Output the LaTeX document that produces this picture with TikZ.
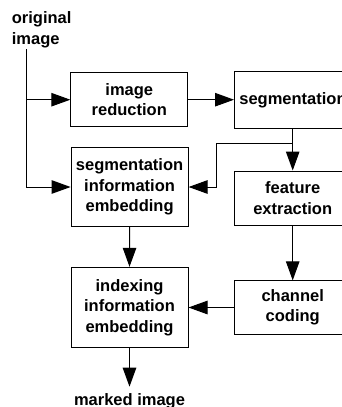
\documentclass[tikz,border=0pt]{standalone}
\usepackage{fontspec}
\setmainfont{Liberation Sans}
\usetikzlibrary{arrows.meta}
\begin{document}
\begin{tikzpicture}[x=1pt,y=-1pt,
  every node/.style={font=\fontsize{16.5}{20.5}\selectfont\bfseries},
  blk/.style={draw,line width=1pt,minimum width=117pt,align=center,inner sep=0pt},
  conn/.style={line width=1pt},
  arr/.style={conn,-{Triangle[length=19pt,width=13.5pt]}}]
\clip (0,0) rectangle (342,407);
\node[blk,minimum height=54pt] (IR) at (129.3,99.7) {image\\reduction};
\node[blk,minimum height=56.6pt] (SEG) at (293,100) {segmentation};
\node[blk,minimum height=79.4pt] (SII) at (129.6,187) {segmentation\\information\\embedding};
\node[blk,minimum height=54pt] (FE) at (292.7,198) {feature\\extraction};
\node[blk,minimum height=80pt] (III) at (129.5,307.3) {indexing\\information\\embedding};
\node[blk,minimum height=53.3pt] (CC) at (292.7,307.5) {channel\\coding};
\node[align=left,anchor=north west,inner sep=0pt] (orig) at (11.7,11.5) {original\\image};
\node[anchor=base,inner sep=0pt] (marked) at (129.5,405) {marked image};
\coordinate (o) at (26.7,49.3);
\coordinate (b) at (292.8,143.3);
\coordinate (c) at (216,143.3);
\coordinate (m) at (129.5,386.7);
\draw[arr] (o) |- (SII.west);
\draw[arr] (o |- IR.west) -- (IR.west);
\draw[arr] (IR.east) -- (IR.east -| SEG.west);
\draw[arr] (SEG.south -| FE.north) -- (FE.north);
\draw[arr] (b) -- (c) |- (SII.east);
\draw[arr] (SII.south) -- (III.north);
\draw[arr] (FE.south) -- (CC.north);
\draw[arr] (CC.west) -- (III.east |- CC.west);
\draw[arr] (III.south) -- (m);
\end{tikzpicture}
\end{document}
